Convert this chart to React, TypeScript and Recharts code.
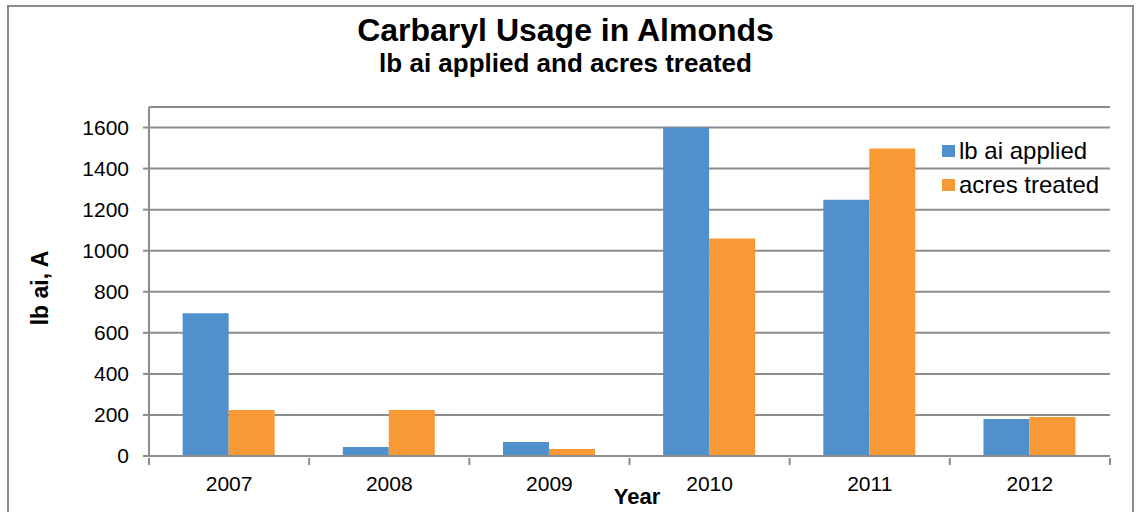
import React from 'react';
import { BarChart, Bar, XAxis, YAxis, CartesianGrid } from 'recharts';

const years = ['2007', '2008', '2009', '2010', '2011', '2012'];
const lbAiApplied = [695, 44, 68, 1600, 1248, 180];
const acresTreated = [224, 224, 34, 1060, 1498, 190];
const yTicks = [0, 200, 400, 600, 800, 1000, 1200, 1400, 1600];

const seriesNames = ['lb ai applied', 'acres treated'];
const colors = ['#4F90CD', '#F79935'];

const data = years.map((y, i) => ({ year: y, lb: lbAiApplied[i], acres: acresTreated[i] }));

const FONT = '"Liberation Sans", Arial, sans-serif';
const GRID = '#8C8C8C';

const XTick = (props: any) => {
  const { x, y, payload, index, visibleTicksCount } = props;
  const half = payload && payload.offset ? payload.offset : 80;
  const lines = [
    <line key="l" x1={x - half} x2={x - half} y1={y - 6} y2={y + 1} stroke={GRID} strokeWidth={2} />,
  ];
  if (index === (visibleTicksCount ?? years.length) - 1) {
    lines.push(<line key="r" x1={x + half} x2={x + half} y1={y - 6} y2={y + 1} stroke={GRID} strokeWidth={2} />);
  }
  return (
    <g>
      {lines}
      <text x={x} y={y + 27} textAnchor="middle" fontSize={21} fontFamily={FONT} fill="#000">
        {payload.value}
      </text>
    </g>
  );
};

const LegendBox = () => (
  <div style={{ position: 'absolute', left: 942, top: 134, fontFamily: FONT, fontSize: 24, color: '#000', lineHeight: '34px' }}>
    {seriesNames.map((n, i) => (
      <div key={n} style={{ display: 'flex', alignItems: 'center', whiteSpace: 'nowrap' }}>
        <span style={{ display: 'inline-block', width: 13, height: 12, background: colors[i], marginRight: 4 }} />
        {n}
      </div>
    ))}
  </div>
);

export default function App() {
  return (
    <div style={{ position: 'absolute', left: 0, top: 0, width: 1139, height: 512, background: '#fff', overflow: 'hidden' }}>
      <div
        style={{
          position: 'absolute',
          left: 7,
          top: 5,
          width: 1127,
          height: 520,
          border: '2px solid #8A8A8A',
          boxSizing: 'border-box',
        }}
      />
      <div style={{ position: 'absolute', left: 0, width: 1131, top: 11, textAlign: 'center', fontFamily: FONT, fontWeight: 'bold', fontSize: 32, lineHeight: '38px', color: '#000' }}>
        Carbaryl Usage in Almonds
      </div>
      <div style={{ position: 'absolute', left: 0, width: 1131, top: 48, textAlign: 'center', fontFamily: FONT, fontWeight: 'bold', fontSize: 26, lineHeight: '30px', color: '#000' }}>
        lb ai applied and acres treated
      </div>
      <div style={{ position: 'absolute', left: 40, top: 288, transform: 'translate(-50%, -50%) rotate(-90deg)', fontFamily: FONT, fontWeight: 'bold', fontSize: 23, whiteSpace: 'nowrap', color: '#000' }}>
        lb ai, A
      </div>
      <div style={{ position: 'absolute', left: 637, top: 497, transform: 'translate(-50%, -50%)', fontFamily: FONT, fontWeight: 'bold', fontSize: 22, whiteSpace: 'nowrap', color: '#000' }}>
        Year
      </div>
      <div style={{ position: 'absolute', left: 0, top: 0 }}>
        <BarChart
          width={1139}
          height={512}
          data={data}
          margin={{ top: 107, right: 29, bottom: 0, left: 0 }}
          barCategoryGap="21%"
          barGap={0}
        >
          <CartesianGrid vertical={false} stroke={GRID} strokeWidth={2} />
          <XAxis
            dataKey="year"
            height={56}
            axisLine={{ stroke: GRID, strokeWidth: 2 }}
            tickLine={false}
            tick={<XTick />}
            interval={0}
          />
          <YAxis
            width={149}
            domain={[0, 1700]}
            ticks={yTicks}
            allowDataOverflow
            axisLine={{ stroke: GRID, strokeWidth: 2 }}
            tickLine={{ stroke: GRID, strokeWidth: 2 }}
            tickSize={6}
            tickMargin={14}
            tick={{ fontSize: 21, fontFamily: FONT, fill: '#000' }}
          />
          <Bar dataKey="lb" name={seriesNames[0]} fill={colors[0]} isAnimationActive={false} />
          <Bar dataKey="acres" name={seriesNames[1]} fill={colors[1]} isAnimationActive={false} />
        </BarChart>
      </div>
      <LegendBox />
    </div>
  );
}
